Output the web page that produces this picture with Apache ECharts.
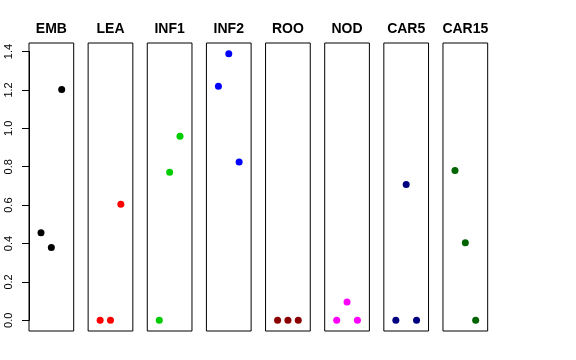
<!DOCTYPE html>
<html><head><meta charset="utf-8">
<script src="https://cdn.jsdelivr.net/npm/echarts@6/dist/echarts.min.js"></script>
<style>html,body{margin:0;padding:0;background:#fff}#c{width:576px;height:360px}</style>
</head><body><div id="c"></div>
<script>
const panels = ['EMB','LEA','INF1','INF2','ROO','NOD','CAR5','CAR15'];
const xPositions = [1, 2, 3];
const EMB = [0.456, 0.380, 1.202];
const LEA = [0, 0, 0.604];
const INF1 = [0, 0.771, 0.959];
const INF2 = [1.219, 1.389, 0.825];
const ROO = [0, 0, 0];
const NOD = [0, 0.095, 0];
const CAR5 = [0, 0.707, 0];
const CAR15 = [0.780, 0.404, 0];
const panelValues = [EMB, LEA, INF1, INF2, ROO, NOD, CAR5, CAR15];
const colors = ['#000000','#FF0000','#00CD00','#0000FF','#8B0000','#FF00FF','#000080','#006400'];
const yTicks = ['0.0','0.2','0.4','0.6','0.8','1.0','1.2','1.4'];

const chart = echarts.init(document.getElementById('c'), null, {renderer:'canvas'});
const L0 = 29, step = 59.14, W = 44.7, T = 43, H = 288;
const yMin = -0.0556, yMax = 1.4446;
const font = 'Liberation Sans, Arial, Helvetica, sans-serif';
const grids = [], xAxes = [], yAxes = [], series = [], texts = [];
panels.forEach((p, i) => {
  const left = L0 + i * step;
  grids.push({left: left, top: T, width: W, height: H, show: true, borderColor: '#000', borderWidth: 1, backgroundColor: 'transparent'});
  xAxes.push({gridIndex: i, type: 'value', min: -0.16, max: 4.16, show: false});
  yAxes.push({gridIndex: i, type: 'value', min: yMin, max: yMax, show: false});
  series.push({type: 'scatter', xAxisIndex: i, yAxisIndex: i, symbolSize: 7,
    itemStyle: {color: colors[i], opacity: 1},
    data: panelValues[i].map((v, k) => [xPositions[k], v]), silent: true});
  texts.push({type: 'text', x: left + W / 2, y: 29.5, silent: true,
    style: {text: p, fill: '#000', font: 'bold 14px ' + font, textAlign: 'center', textVerticalAlign: 'middle'}});
});
// y axis scale (0 to 1.4) aligned to panel coordinates
const pxPerUnit = H / (yMax - yMin);
const axTop = T + (yMax - 1.4) * pxPerUnit;
const axH = 1.4 * pxPerUnit;
grids.push({left: L0, top: axTop, width: 1, height: axH, show: false});
xAxes.push({gridIndex: 8, type: 'value', min: 0, max: 1, show: false});
yAxes.push({gridIndex: 8, type: 'value', min: 0, max: 1.4, interval: 0.2, position: 'left',
  axisLine: {show: true, lineStyle: {color: '#000', width: 1}},
  axisTick: {show: true, length: 7, lineStyle: {color: '#000'}},
  splitLine: {show: false},
  axisLabel: {show: true, rotate: 90, margin: 15, color: '#000', fontSize: 11, fontFamily: font,
    formatter: (v) => yTicks[Math.round(v / 0.2)]}});

chart.setOption({animation: false, backgroundColor: '#fff', grid: grids, xAxis: xAxes, yAxis: yAxes, series: series, graphic: texts});
</script></body></html>
